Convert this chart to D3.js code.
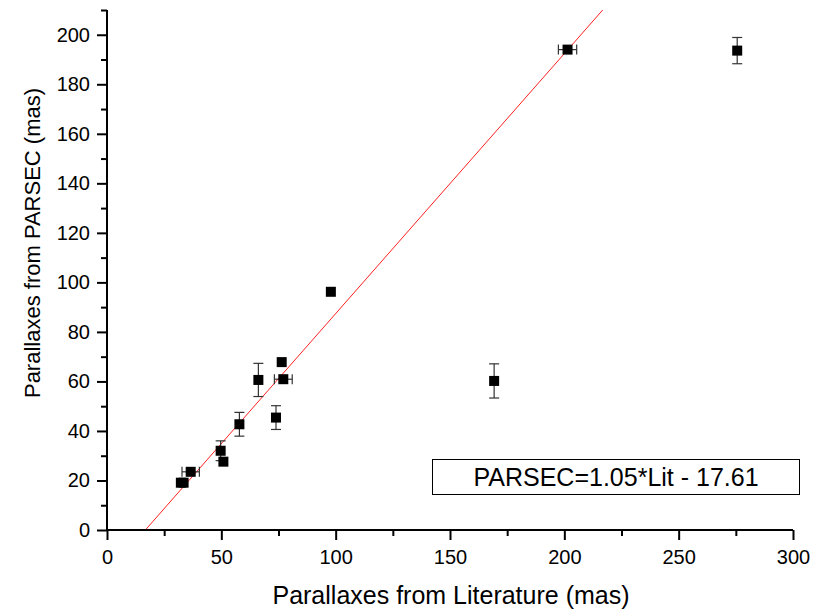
<!DOCTYPE html>
<html><head><meta charset="utf-8">
<script src="https://cdn.jsdelivr.net/npm/d3@7"></script>
<style>
html,body{margin:0;padding:0;background:#fff;}
svg{display:block;font-family:"Liberation Sans",Arial,sans-serif;}
</style></head>
<body>
<svg id="c" width="814" height="611"></svg>
<script>
const litX    = [32.3, 33.5, 36.6, 49.7, 50.9, 57.9, 66.2, 73.9, 76.4, 77.1, 97.9, 169.3, 201.4, 275.6];
const parsecY = [19.1, 19.1, 23.5, 32.0, 27.6, 42.7, 60.6, 45.4, 67.8, 60.9, 96.2, 60.2, 194.0, 193.6];
const xErr    = [0, 0, 3.8, 0, 0, 0, 0, 0, 0, 3.9, 0, 0, 4.0, 0];
const yErr    = [0, 0, 0, 4.0, 0, 4.8, 6.7, 4.8, 0, 0, 0, 6.9, 0, 5.3];
const fitSlope = 1.05, fitIntercept = -17.61;
const xTicks = [0, 50, 100, 150, 200, 250, 300];
const xMinor = [25, 75, 125, 175, 225, 275];
const yTicks = [0, 20, 40, 60, 80, 100, 120, 140, 160, 180, 200];
const yMinor = [10, 30, 50, 70, 90, 110, 130, 150, 170, 190, 210];
const legendText = "PARSEC=1.05*Lit - 17.61";
const xTitle = "Parallaxes from Literature (mas)";
const yTitle = "Parallaxes from PARSEC (mas)";

const svg = d3.select("#c");
const x = d3.scaleLinear().domain([0, 300]).range([107, 793]);
const y = d3.scaleLinear().domain([0, 210]).range([530, 10]);

// fit line
const fx0 = (0 - fitIntercept) / fitSlope, fx1 = (210 - fitIntercept) / fitSlope;
svg.append("line").attr("x1", x(fx0)).attr("y1", y(0)).attr("x2", x(fx1)).attr("y2", y(210))
  .attr("stroke", "#ff2020").attr("stroke-width", 1);

// axes
const gx = svg.append("g").attr("transform", `translate(0,${y(0)})`)
  .call(d3.axisBottom(x).tickValues(xTicks).tickSize(10).tickSizeOuter(0).tickPadding(10).tickFormat(d3.format("d")));
const gxm = svg.append("g").attr("transform", `translate(0,${y(0)})`)
  .call(d3.axisBottom(x).tickValues(xMinor).tickSize(6).tickSizeOuter(0).tickFormat(""));
const gy = svg.append("g").attr("transform", `translate(${x(0)},0)`)
  .call(d3.axisLeft(y).tickValues(yTicks).tickSize(10).tickSizeOuter(0).tickPadding(7).tickFormat(d3.format("d")));
const gym = svg.append("g").attr("transform", `translate(${x(0)},0)`)
  .call(d3.axisLeft(y).tickValues(yMinor).tickSize(6).tickSizeOuter(0).tickFormat(""));
[gx, gxm, gy, gym].forEach(g => {
  g.selectAll("path.domain").attr("stroke", "#000").attr("stroke-width", 2);
  g.selectAll(".tick line").attr("stroke", "#000").attr("stroke-width", 2);
  g.selectAll("text").attr("font-size", 20).attr("fill", "#000")
    .attr("font-family", "Liberation Sans, Arial, sans-serif");
});
gxm.select("path.domain").remove();
gym.select("path.domain").remove();
gy.select("path.domain").attr("d", `M0,${y(210)}V${y(0)}`);
gx.select("path.domain").attr("d", `M${x(0)},0H${x(300)}`);

// error bars
const pts = litX.map((v, i) => ({x: v, y: parsecY[i], ex: xErr[i], ey: yErr[i]}));
const eb = svg.append("g").attr("stroke", "#333").attr("stroke-width", 1.2).attr("fill", "none");
const cap = 5;
pts.filter(d => d.ey > 0).forEach(d => {
  eb.append("line").attr("x1", x(d.x)).attr("x2", x(d.x)).attr("y1", y(d.y - d.ey)).attr("y2", y(d.y + d.ey));
  eb.append("line").attr("x1", x(d.x) - cap).attr("x2", x(d.x) + cap).attr("y1", y(d.y - d.ey)).attr("y2", y(d.y - d.ey));
  eb.append("line").attr("x1", x(d.x) - cap).attr("x2", x(d.x) + cap).attr("y1", y(d.y + d.ey)).attr("y2", y(d.y + d.ey));
});
pts.filter(d => d.ex > 0).forEach(d => {
  eb.append("line").attr("y1", y(d.y)).attr("y2", y(d.y)).attr("x1", x(d.x - d.ex)).attr("x2", x(d.x + d.ex));
  eb.append("line").attr("y1", y(d.y) - cap).attr("y2", y(d.y) + cap).attr("x1", x(d.x - d.ex)).attr("x2", x(d.x - d.ex));
  eb.append("line").attr("y1", y(d.y) - cap).attr("y2", y(d.y) + cap).attr("x1", x(d.x + d.ex)).attr("x2", x(d.x + d.ex));
});

// markers
const s = 10;
svg.append("g").selectAll("rect").data(pts).join("rect")
  .attr("x", d => x(d.x) - s / 2).attr("y", d => y(d.y) - s / 2)
  .attr("width", s).attr("height", s).attr("fill", "#000");

// legend box
svg.append("rect").attr("x", 432.5).attr("y", 459.5).attr("width", 367).attr("height", 35)
  .attr("fill", "#fff").attr("stroke", "#000").attr("stroke-width", 1);
svg.append("text").attr("x", 616).attr("y", 486).attr("text-anchor", "middle")
  .attr("font-size", 25).attr("fill", "#000").text(legendText);

// titles
svg.append("text").attr("x", 451).attr("y", 604).attr("text-anchor", "middle")
  .attr("font-size", 25).attr("fill", "#000").text(xTitle);
svg.append("text").attr("transform", "translate(40,243) rotate(-90)").attr("text-anchor", "middle")
  .attr("font-size", 22).attr("fill", "#000").text(yTitle);
</script>
</body></html>
